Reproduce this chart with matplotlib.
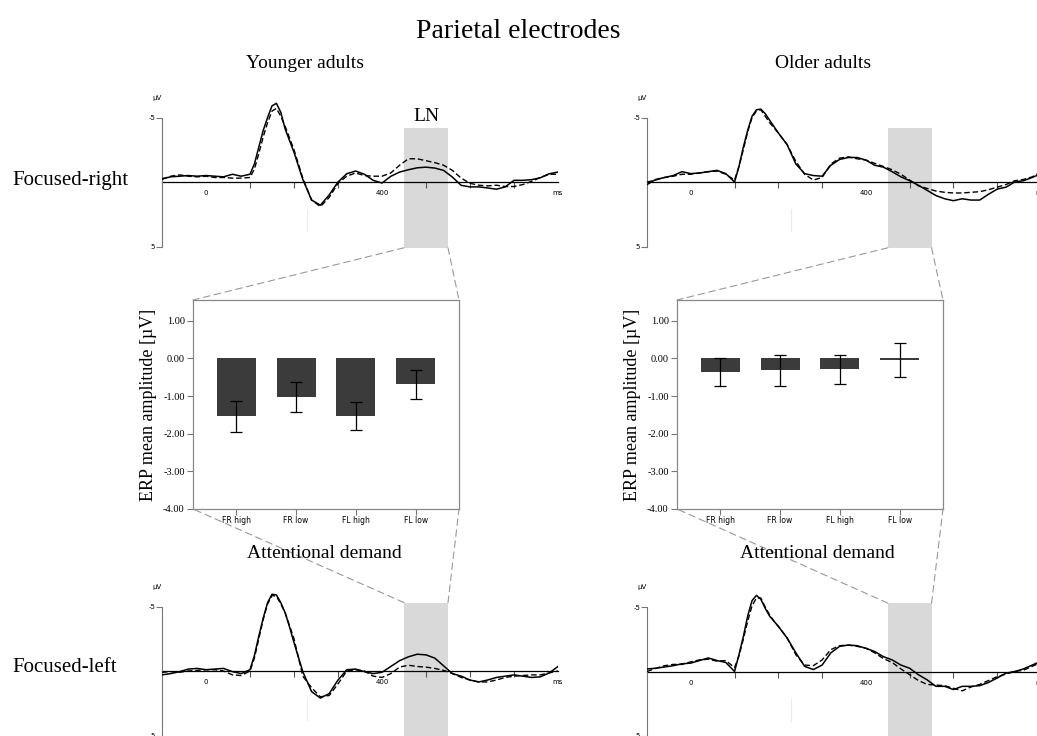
import matplotlib
matplotlib.use("Agg")
import matplotlib.pyplot as plt
import numpy as np
from matplotlib.patches import ConnectionPatch

plt.rcParams["font.family"] = ["Liberation Serif", "DejaVu Serif"]
plt.rcParams["axes.unicode_minus"] = False

# ERP waveforms (µV): every 20 ms, every 10 ms around the N1 peak
times = np.concatenate([np.arange(-100, 100, 20), np.arange(100, 201, 10),
                        np.arange(220, 801, 20)])

ya_fr_solid = [-0.26, -0.4, -0.45, -0.5, -0.45, -0.5, -0.45, -0.4, -0.6, -0.45,
               -0.6, -1.4, -2.7, -4.0, -5.0, -5.9, -6.1, -5.4, -4.1, -3.2, -2.3,
               -0.2, 1.4, 1.8, 1.0, 0.0, -0.64, -0.85, -0.6, -0.13, 0.08,
               -0.44, -0.77, -0.95, -1.1, -1.15, -1.08, -0.9, -0.38, 0.26, 0.38,
               0.38, 0.46, 0.56, 0.38, -0.13, -0.13, -0.18, -0.33, -0.64, -0.77]
ya_fr_dashed = [-0.2, -0.45, -0.55, -0.45, -0.4, -0.45, -0.35, -0.35, -0.3, -0.3,
                -0.35, -1.0, -2.2, -3.5, -4.6, -5.5, -5.7, -5.1, -4.3, -3.4, -2.5,
                -0.3, 1.4, 1.9, 1.2, 0.1, -0.45, -0.7, -0.5, -0.45, -0.45,
                -0.7, -1.3, -1.8, -1.8, -1.65, -1.5, -1.3, -0.9, -0.3, 0.1,
                0.25, 0.3, 0.25, 0.35, 0.35, 0.2, -0.05, -0.35, -0.6, -0.6]
oa_fr_solid = [0.2, -0.2, -0.35, -0.5, -0.8, -0.65, -0.7, -0.8, -0.9, -0.65,
               0.0, -1.2, -2.7, -4.0, -5.1, -5.6, -5.65, -5.3, -4.8, -4.3, -3.8,
               -2.9, -1.4, -0.65, -0.5, -0.45, -1.3, -1.75, -1.9, -1.9, -1.7,
               -1.3, -1.15, -0.8, -0.4, -0.1, 0.25, 0.65, 1.05, 1.3, 1.45,
               1.3, 1.4, 1.4, 0.95, 0.55, 0.4, 0.0, -0.1, -0.35, -0.65]
oa_fr_dashed = [0.0, -0.15, -0.35, -0.45, -0.6, -0.6, -0.7, -0.8, -0.85, -0.6,
                -0.15, -1.2, -2.5, -3.9, -5.0, -5.5, -5.6, -5.1, -4.6, -4.2, -3.8,
                -2.9, -1.6, -0.6, -0.15, -0.35, -1.4, -1.85, -1.95, -1.8, -1.7,
                -1.45, -1.2, -0.95, -0.6, -0.15, 0.3, 0.5, 0.7, 0.8, 0.85,
                0.85, 0.8, 0.75, 0.6, 0.4, 0.2, -0.1, -0.2, -0.4, -0.8]
ya_fl_solid = [0.3, 0.2, 0.05, -0.15, -0.2, -0.1, -0.15, -0.2, 0.05, 0.2,
               -0.1, -1.2, -2.7, -4.1, -5.3, -5.95, -5.9, -5.3, -4.5, -3.4, -2.2,
               0.05, 1.6, 2.1, 1.75, 0.7, -0.1, -0.15, 0.05, 0.2, 0.1,
               -0.35, -0.8, -1.1, -1.3, -1.25, -1.0, -0.4, 0.2, 0.4, 0.7,
               0.85, 0.7, 0.5, 0.4, 0.3, 0.4, 0.5, 0.45, 0.15, -0.35]
ya_fl_dashed = [0.1, 0.05, 0.1, 0.0, -0.05, -0.1, -0.1, 0.0, 0.3, 0.35,
                0.0, -1.0, -2.5, -4.0, -5.2, -5.85, -5.8, -5.2, -4.5, -3.5, -2.5,
                0.4, 1.3, 2.0, 1.9, 1.0, 0.0, -0.1, 0.0, 0.4, 0.5,
                0.2, -0.3, -0.45, -0.35, -0.3, -0.2, -0.05, 0.2, 0.5, 0.7,
                0.85, 0.85, 0.7, 0.5, 0.4, 0.35, 0.3, 0.3, 0.15, 0.0]
oa_fl_solid = [-0.2, -0.25, -0.35, -0.45, -0.6, -0.65, -0.85, -1.05, -0.85, -0.7,
               0.0, -1.3, -2.7, -4.3, -5.5, -5.9, -5.6, -4.9, -4.3, -3.9, -3.5,
               -2.6, -1.45, -0.4, -0.15, -0.5, -1.45, -1.95, -2.05, -2.0, -1.8,
               -1.55, -1.15, -0.9, -0.5, -0.25, 0.25, 0.65, 1.15, 1.15, 1.4,
               1.15, 1.15, 1.1, 0.85, 0.5, 0.13, 0.0, -0.2, -0.5, -0.8]
oa_fl_dashed = [0.0, -0.25, -0.45, -0.55, -0.55, -0.75, -0.9, -0.95, -0.8, -0.85,
                -0.3, -1.2, -2.5, -3.9, -5.1, -5.7, -5.7, -5.0, -4.4, -3.9, -3.5,
                -2.6, -1.3, -0.5, -0.45, -0.9, -1.7, -2.0, -2.05, -1.95, -1.8,
                -1.45, -1.0, -0.7, -0.2, 0.25, 0.7, 1.0, 1.05, 1.1, 1.3,
                1.5, 1.2, 1.0, 0.7, 0.4, 0.2, 0.0, -0.1, -0.4, -0.7]

ln_window = (450, 550)

# LN mean amplitudes (µV) and error bars
conditions = ["FR high", "FR low", "FL high", "FL low"]
ya_means = [-1.54, -1.03, -1.54, -0.69]
ya_errors = [0.41, 0.39, 0.37, 0.39]
oa_means = [-0.36, -0.32, -0.29, -0.04]
oa_errors = [0.38, 0.41, 0.38, 0.46]

W, H = 1037, 736
fig = plt.figure(figsize=(W / 100, H / 100), dpi=100)


def px_axes(left, top, right, bottom):
    return fig.add_axes([left / W, 1 - bottom / H, (right - left) / W, (bottom - top) / H])


def fig_text(x, y, s, **kw):
    fig.text(x / W, 1 - y / H, s, **kw)


def erp_panel(left, right, y0, solid, dashed, shade):
    ppu = 12.9
    ax = px_axes(left, y0 - 7 * ppu, right, y0 + 7 * ppu)
    ax.set_xlim(-100, 800)
    ax.set_ylim(7, -7)
    ax.patch.set_alpha(0)
    ax.fill_between(ln_window, shade[0], shade[1], color="#d9d9d9", lw=0, zorder=0)
    ax.plot([230, 230], [2.1, 3.8], color="#ececec", lw=0.8, zorder=0)
    ax.plot(times, dashed, color="black", lw=1.0, ls=(0, (4, 2)), zorder=3)
    ax.plot(times, solid, color="black", lw=1.1, zorder=4)
    for s in ["top", "right"]:
        ax.spines[s].set_visible(False)
    ax.spines["bottom"].set_position(("data", 0))
    ax.spines["bottom"].set_linewidth(0.9)
    ax.spines["bottom"].set_zorder(2)
    ax.spines["left"].set_bounds(-5, 5)
    ax.spines["left"].set_color("#777777")
    ax.set_yticks([-5, 5], ["-5", "5"])
    ax.set_xticks([0, 400, 800], ["0", "400", "ms"])
    ax.set_xticks([100, 200, 300, 500, 600, 700], minor=True)
    ax.tick_params(axis="y", length=4, width=0.8, color="#777777", pad=1,
                   labelsize=5, labelfontfamily="DejaVu Sans")
    ax.tick_params(axis="x", which="major", length=0, pad=6, labelsize=5,
                   labelfontfamily="DejaVu Sans")
    ax.tick_params(axis="x", which="minor", length=4, width=0.8, color="#555555")
    ax.text(-100, -6.3, "µV", fontsize=5, family="DejaVu Sans", ha="right",
            va="bottom", clip_on=False)
    return ax


def bar_panel(left, right, means, errors):
    ax = px_axes(left, 300, right, 509)
    x = np.arange(len(conditions))
    ax.bar(x, means, width=0.65, color="#3b3b3b", zorder=2)
    ax.errorbar(x, means, yerr=errors, fmt="none", ecolor="black", elinewidth=0.9,
                capsize=4.5, capthick=0.9, zorder=3)
    ax.set_xlim(-0.72, 3.72)
    ax.set_ylim(-4.0, 1.55)
    ax.set_yticks(np.arange(-4, 1.5, 1.0))
    ax.set_yticklabels([f"{v:.2f}" for v in np.arange(-4, 1.5, 1.0)], fontsize=7.5)
    ax.set_xticks(x, conditions)
    ax.tick_params(axis="x", length=4, width=0.8, color="#777777", pad=1,
                   labelsize=5.5, labelfontfamily="DejaVu Sans")
    ax.tick_params(axis="y", length=4, width=0.8, color="#777777", pad=2)
    for s in ax.spines.values():
        s.set_color("#888888")
        s.set_linewidth(0.9)
    ax.set_ylabel("ERP mean amplitude [µV]", fontsize=13, labelpad=4)
    return ax


shade_top = (-4.2, 5.1)
shade_bottom = (-5.3, 9)

erp_tl = erp_panel(162, 558, 182, ya_fr_solid, ya_fr_dashed, shade_top)
erp_tr = erp_panel(647, 1041, 182, oa_fr_solid, oa_fr_dashed, shade_top)
erp_bl = erp_panel(162, 558, 671, ya_fl_solid, ya_fl_dashed, shade_bottom)
erp_br = erp_panel(647, 1041, 671.5, oa_fl_solid, oa_fl_dashed, shade_bottom)

bar_l = bar_panel(193, 459, ya_means, ya_errors)
bar_r = bar_panel(677, 943, oa_means, oa_errors)

erp_tl.text(np.mean(ln_window), -4.4, "LN", fontsize=14, ha="center", va="bottom")

# dashed zoom lines from the LN window to the bar charts
for erp_top, bar, erp_bot in [(erp_tl, bar_l, erp_bl), (erp_tr, bar_r, erp_br)]:
    for t, fx in zip(ln_window, (0, 1)):
        for a, yv, fy in [(erp_top, shade_top[1], 1), (erp_bot, shade_bottom[0], 0)]:
            con = ConnectionPatch(xyA=(t, yv), coordsA="data", axesA=a,
                                  xyB=(fx, fy), coordsB="axes fraction", axesB=bar,
                                  color="#999999", lw=0.8, ls=(0, (6, 4)))
            fig.add_artist(con)

fig_text(518, 31, "Parietal electrodes", fontsize=20, ha="center", va="center")
fig_text(305, 64, "Younger adults", fontsize=14, ha="center", va="center")
fig_text(823, 64, "Older adults", fontsize=14, ha="center", va="center")
fig_text(324, 554, "Attentional demand", fontsize=14, ha="center", va="center")
fig_text(817, 554, "Attentional demand", fontsize=14, ha="center", va="center")
fig_text(12, 181, "Focused-right", fontsize=15, ha="left", va="center")
fig_text(12, 668, "Focused-left", fontsize=15, ha="left", va="center")

fig.savefig("out.png", dpi=100)
